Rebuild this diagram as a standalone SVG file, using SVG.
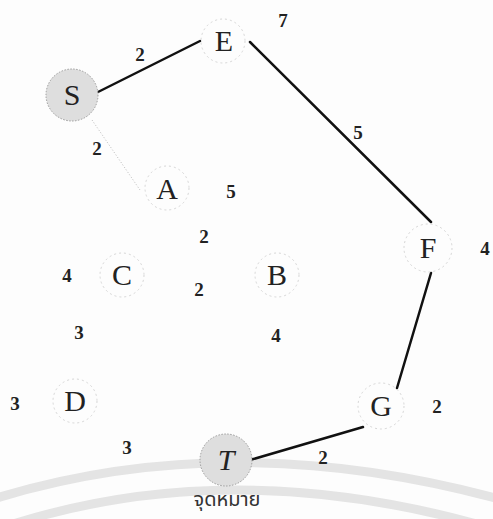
<svg xmlns="http://www.w3.org/2000/svg" width="493" height="519" viewBox="0 0 493 519">
<style>
.bg{fill:#fdfdfd}
.arc{fill:none;stroke:#e4e4e4;stroke-width:9}
.ring{fill:none;stroke:#d6d6d6;stroke-width:1;stroke-dasharray:2 3}
.hub{fill:#dedede;stroke:#9a9a9a;stroke-width:1;stroke-dasharray:1.5 1.5}
.lbl{font-family:"Liberation Serif","Times New Roman",serif;font-size:30px;fill:#222;text-anchor:middle}
.w{font-family:"Liberation Serif","Times New Roman",serif;font-size:19px;font-weight:bold;fill:#222;text-anchor:middle}
.edge{stroke:#111;stroke-width:2.5;fill:none;stroke-linecap:round}
.faint{stroke:#bbb;stroke-width:1;stroke-dasharray:1 2;fill:none}
.thai{font-family:"Noto Sans Thai","Noto Sans","DejaVu Sans",sans-serif;font-size:20px;fill:#333;text-anchor:middle}
</style>
<rect class="bg" x="0" y="0" width="493" height="519"/>
<path class="arc" d="M -10 500 Q 230 425 503 500"/>
<path class="arc" d="M 10 525 Q 230 455 480 525"/>
<g id="connectors">
<line class="edge" x1="98" y1="92" x2="200" y2="41"/>
<line class="edge" x1="250" y1="42" x2="431" y2="222"/>
<line class="edge" x1="431" y1="273" x2="397" y2="388"/>
<line class="edge" x1="363" y1="427" x2="250" y2="460"/>
<line class="faint" x1="92" y1="120" x2="140" y2="190"/>
<text class="w" x="140" y="61">2</text>
<text class="w" x="358" y="139">5</text>
<text class="w" x="97" y="155">2</text>
<text class="w" x="323" y="464">2</text>
</g>
<g id="S"><circle class="hub" cx="72" cy="95" r="26"/><text class="lbl" x="72" y="105">S</text></g>
<g id="E"><circle class="ring" cx="223" cy="41" r="22"/><text class="lbl" x="224" y="51">E</text><text class="w" x="283" y="27">7</text></g>
<g id="A"><circle class="ring" cx="167" cy="188" r="22"/><text class="lbl" x="167" y="199">A</text><text class="w" x="231" y="198">5</text><text class="w" x="204" y="243">2</text></g>
<g id="C"><circle class="ring" cx="122" cy="275" r="22"/><text class="lbl" x="122" y="285">C</text><text class="w" x="67" y="282">4</text><text class="w" x="199" y="296">2</text><text class="w" x="79" y="339">3</text></g>
<g id="B"><circle class="ring" cx="277" cy="275" r="22"/><text class="lbl" x="277" y="285">B</text><text class="w" x="276" y="342">4</text></g>
<g id="F"><circle class="ring" cx="428" cy="248" r="24"/><text class="lbl" x="428" y="258">F</text><text class="w" x="485" y="255">4</text></g>
<g id="D"><circle class="ring" cx="75" cy="401" r="22"/><text class="lbl" x="75" y="411">D</text><text class="w" x="15" y="410">3</text><text class="w" x="127" y="454">3</text></g>
<g id="G"><circle class="ring" cx="381" cy="406" r="23"/><text class="lbl" x="381" y="416">G</text><text class="w" x="437" y="413">2</text></g>
<g id="T"><circle class="hub" cx="226" cy="460" r="26"/><text class="lbl" x="226" y="470" font-style="italic">T</text><text class="thai" x="227" y="506">จุดหมาย</text></g>
</svg>
